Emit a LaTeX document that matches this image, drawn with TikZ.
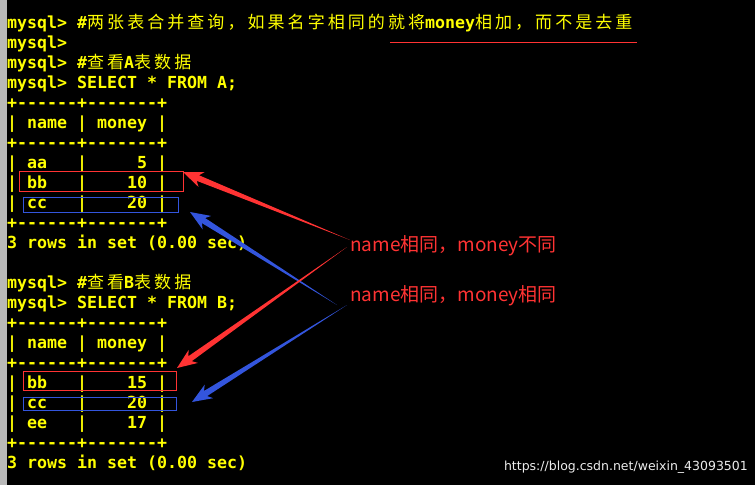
\documentclass[tikz,border=0pt]{standalone}
\usepackage{fontspec}
\usetikzlibrary{calc}
\setmonofont{DejaVu Sans Mono}
\newfontfamily\cjk[LetterSpace=18]{Noto Sans CJK SC}
\newfontfamily\lab{Noto Sans CJK SC}
\newfontfamily\wm{DejaVu Sans}
\definecolor{termy}{HTML}{FFFF00}
\definecolor{annred}{HTML}{FF3333}
\definecolor{annblue}{HTML}{3355DD}
\tikzset{
  ln/.style={anchor=base west,inner sep=0pt,text=termy,font=\ttfamily\bfseries\fontsize{16.6}{16.6}\selectfont},
  rbox/.style={draw=annred,line width=1.1pt,inner sep=0pt},
  bbox/.style={draw=annblue,line width=1.1pt,inner sep=0pt},
  lbl/.style={anchor=west,inner sep=0pt,text=annred,font=\lab\fontsize{19}{19}\selectfont},
}
\newcommand{\cz}[1]{{\cjk\mdseries\fontsize{17}{17}\selectfont #1}}
\newcommand{\taper}[3]{%
  \fill[#3] (#1) -- ($($(#2)!16pt!(#1)$)!3pt!90:(#1)$) -- ($($(#2)!20pt!(#1)$)!8pt!90:(#1)$) -- (#2)
   -- ($($(#2)!20pt!(#1)$)!8pt!-90:(#1)$) -- ($($(#2)!16pt!(#1)$)!3pt!-90:(#1)$) -- cycle;}
\begin{document}
\begin{tikzpicture}[x=1pt,y=-1pt]
\fill[black] (0,0) rectangle (755,485);
\useasboundingbox (0,0) rectangle (755,485);
\fill[gray!55] (0,0) rectangle (7,485);
\node[ln] (l1) at (7,28) {mysql>~\#\cz{两张表合并查询，如果名字相同的就将}money\cz{相加，而不是去重}};
\node[ln] (l2) at (7,48) {mysql>};
\node[ln] (l3) at (7,68) {mysql>~\#\cz{查看}A\cz{表数据}};
\node[ln] (l4) at (7,88) {mysql>~SELECT~*~FROM~A;};
\node[ln] (l5) at (7,108) {+------+-------+};
\node[ln] (l6) at (7,128) {|~name~|~money~|};
\node[ln] (l7) at (7,148) {+------+-------+};
\node[ln] (l8) at (7,168) {|~aa~~~|~~~~~5~|};
\node[ln] (l9) at (7,188) {|~bb~~~|~~~~10~|};
\node[ln] (l10) at (7,208) {|~cc~~~|~~~~20~|};
\node[ln] (l11) at (7,228) {+------+-------+};
\node[ln] (l12) at (7,248) {3~rows~in~set~(0.00~sec)};
\node[ln] (l13) at (7,288) {mysql>~\#\cz{查看}B\cz{表数据}};
\node[ln] (l14) at (7,308) {mysql>~SELECT~*~FROM~B;};
\node[ln] (l15) at (7,328) {+------+-------+};
\node[ln] (l16) at (7,348) {|~name~|~money~|};
\node[ln] (l17) at (7,368) {+------+-------+};
\node[ln] (l18) at (7,388) {|~bb~~~|~~~~15~|};
\node[ln] (l19) at (7,408) {|~cc~~~|~~~~20~|};
\node[ln] (l20) at (7,428) {|~ee~~~|~~~~17~|};
\node[ln] (l21) at (7,448) {+------+-------+};
\node[ln] (l22) at (7,468) {3~rows~in~set~(0.00~sec)};
\draw[annred,line width=0.8pt] (390,42.5) -- (637,42.5);
\node[rbox,minimum width=164pt,minimum height=20pt] (ra) at (101.5,181.5) {};
\node[bbox,minimum width=155pt,minimum height=15pt] (ba) at (101,205) {};
\node[rbox,minimum width=153pt,minimum height=19pt] (rb) at (100,381) {};
\node[bbox,minimum width=153pt,minimum height=13pt] (bb) at (100,404) {};
\node[lbl] (t1) at (350,246) {name相同，money不同};
\node[lbl] (t2) at (350,296) {name相同，money相同};
\coordinate (s1) at (350,240);
\coordinate (s2) at (337,305);
\coordinate (s3) at (347,247);
\coordinate (s4) at (347,305);
\coordinate (h1) at (183,172);
\coordinate (h2) at (190,212);
\coordinate (h3) at (177,368);
\coordinate (h4) at (192,402);
\taper{s1}{h1}{annred}
\taper{s2}{h2}{annblue}
\taper{s3}{h3}{annred}
\taper{s4}{h4}{annblue}
\node[anchor=base east,inner sep=0pt,text=white!85!gray,font=\wm\fontsize{12.5}{12.5}\selectfont] (wm) at (748,470) {https://blog.csdn.net/weixin\_43093501};
\end{tikzpicture}
\end{document}
